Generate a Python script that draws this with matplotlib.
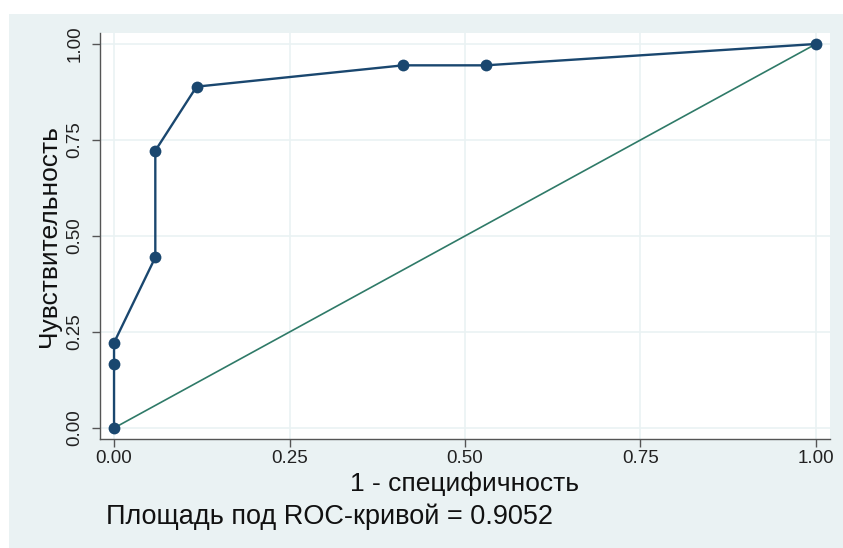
import matplotlib.pyplot as plt
from matplotlib.patches import Rectangle

plt.rcParams['font.family'] = ['Liberation Sans', 'DejaVu Sans']

# ROC points (1 - specificity, sensitivity)
fpr = [0.0, 0.0, 0.0, 0.0588, 0.0588, 0.1176, 0.4118, 0.5294, 1.0]
tpr = [0.0, 0.1667, 0.2222, 0.4444, 0.7222, 0.8889, 0.9444, 0.9444, 1.0]
ticks = [0.0, 0.25, 0.5, 0.75, 1.0]
tick_labels = ['0.00', '0.25', '0.50', '0.75', '1.00']
auc = 0.9052

bg = '#eaf2f3'
navy = '#1a476f'
green = '#2f7a68'

fig = plt.figure(figsize=(8.43, 5.48), dpi=100, facecolor='white')
fig.patches.append(Rectangle((9 / 843, 0), 834 / 843, 534 / 548,
                             transform=fig.transFigure, facecolor=bg,
                             edgecolor='none', zorder=-10))

ax = fig.add_axes([100 / 843, 1 - 439 / 548, 730 / 843, 406 / 548])
ax.set_facecolor('white')

ax.plot([0, 1], [0, 1], color=green, lw=1.2, zorder=2)
ax.plot(fpr, tpr, color=navy, lw=1.7, marker='o', markersize=8.5,
        markeredgewidth=0, zorder=3)

ax.set_xlim(-0.02, 1.02)
ax.set_ylim(-0.0286, 1.0286)
ax.set_xticks(ticks)
ax.set_xticklabels(tick_labels)
ax.set_yticks(ticks)
ax.set_yticklabels(tick_labels, rotation=90, va='center')
ax.grid(True, color=bg, lw=1.2, zorder=0)
ax.set_axisbelow(True)

for s in ['top', 'right']:
    ax.spines[s].set_visible(False)
for s in ['left', 'bottom']:
    ax.spines[s].set_color('#555555')
    ax.spines[s].set_linewidth(1.0)

ax.tick_params(axis='both', direction='out', length=6, width=1.0,
               color='#555555', labelsize=13.5, labelcolor='#222222')
ax.tick_params(axis='y', pad=6)
ax.tick_params(axis='x', pad=2)

ax.set_xlabel('1 - специфичность', fontsize=19, labelpad=3, color='#111111')
ax.set_ylabel('Чувствительность', fontsize=19, labelpad=4, color='#111111')

fig.text(106 / 843, 1 - 517 / 548, 'Площадь под ROC-кривой = ' + f'{auc:.4f}',
         fontsize=19.5, ha='left', va='center', color='#111111')

fig.savefig('out.png', dpi=100, facecolor='white')
